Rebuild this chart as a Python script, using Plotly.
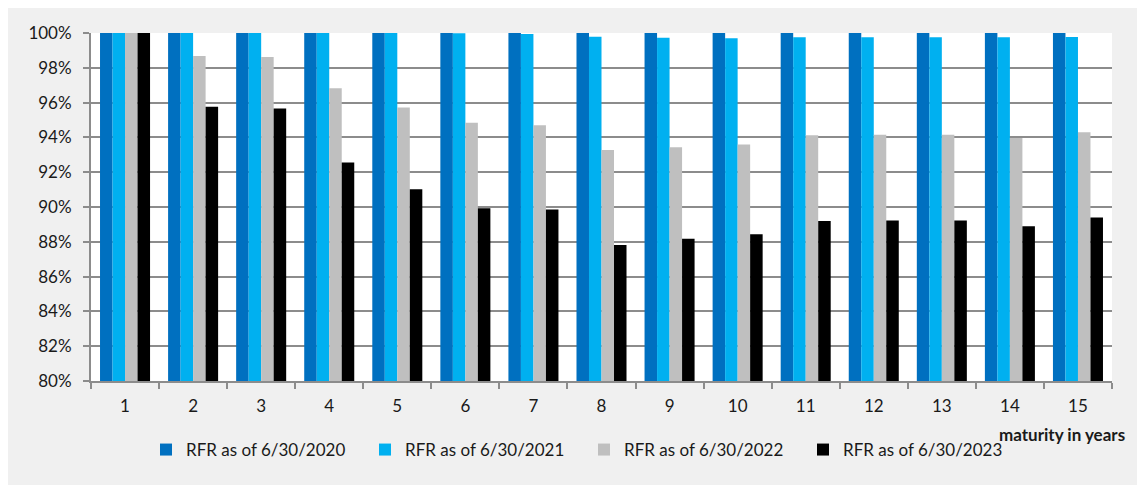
import plotly.graph_objects as go

maturities = [str(i) for i in range(1, 16)]
series_names = ["RFR as of 6/30/2020", "RFR as of 6/30/2021",
                "RFR as of 6/30/2022", "RFR as of 6/30/2023"]
rfr_2020 = [100, 100, 100, 100, 100, 100, 100, 100, 100, 100, 100, 100, 100, 100, 100]
rfr_2021 = [100, 100, 100, 100, 100, 99.98, 99.94, 99.79, 99.73, 99.70, 99.75, 99.75, 99.75, 99.75, 99.77]
rfr_2022 = [100, 98.68, 98.62, 96.82, 95.72, 94.84, 94.70, 93.28, 93.44, 93.59, 94.13, 94.15, 94.15, 93.96, 94.30]
rfr_2023 = [100, 95.76, 95.66, 92.56, 91.02, 89.93, 89.85, 87.81, 88.18, 88.43, 89.19, 89.23, 89.23, 88.90, 89.39]
colors = ["#0070C0", "#00B0F0", "#BFBFBF", "#000000"]
y_ticks = list(range(80, 101, 2))

W, H = 1137, 486
L, R, T, B = 91, 25, 33, 105
pw, ph = W - L - R, H - T - B

def px_x(px):
    return (px - L) / pw

def px_y(py):
    return (H - B - py) / ph

FONT = "Lato"

fig = go.Figure()
for name, vals, col in zip(series_names, [rfr_2020, rfr_2021, rfr_2022, rfr_2023], colors):
    fig.add_trace(go.Bar(x=maturities, y=vals, name=name,
                         marker=dict(color=col, line=dict(width=0))))

fig.update_layout(
    width=W, height=H,
    margin=dict(l=L, r=R, t=T, b=B, pad=0),
    paper_bgcolor="#F0F0F0",
    plot_bgcolor="#FFFFFF",
    barmode="group",
    bargap=0.265,
    bargroupgap=0,
    font=dict(family=FONT, size=17, color="#1a1a1a"),
    showlegend=True,
    legend=dict(orientation="h", xref="container", yref="container",
                x=146 / W, y=1 - 450 / H, xanchor="left", yanchor="middle",
                bgcolor="rgba(0,0,0,0)", font=dict(size=17, family=FONT),
                entrywidthmode="pixels", entrywidth=174,
                traceorder="normal", itemclick=False),
    xaxis=dict(type="category", showgrid=False, showline=True,
               linecolor="#8C8C8C", linewidth=2,
               ticks="outside", tickson="boundaries", ticklen=6,
               tickcolor="#8C8C8C", tickwidth=2,
               ticklabelstandoff=9,
               tickfont=dict(size=17, family=FONT)),
    yaxis=dict(range=[80, 100], tickvals=y_ticks,
               ticktext=[f"{v}%" for v in y_ticks],
               showgrid=True, gridcolor="#8C8C8C", gridwidth=2,
               showline=True, linecolor="#8C8C8C", linewidth=2,
               ticks="outside", ticklen=6, tickcolor="#8C8C8C", tickwidth=2,
               ticklabelstandoff=8, zeroline=False,
               tickfont=dict(size=17, family=FONT)),
)

# white page border around the grey chart frame
for x0, x1, y0, y1 in [(0, W, 0, 8), (0, 8, 0, H), (0, W, 485, H)]:
    fig.add_shape(type="rect", xref="paper", yref="paper",
                  x0=px_x(x0), x1=px_x(x1), y0=px_y(y0), y1=px_y(y1),
                  fillcolor="#FFFFFF", line=dict(width=0), layer="below")

fig.add_annotation(text="<b>maturity in years</b>", xref="paper", yref="paper",
                   x=px_x(1127), y=px_y(434), xanchor="right", yanchor="middle",
                   showarrow=False, font=dict(size=17, family=FONT, color="#1a1a1a"))

fig.write_html("out.html")
